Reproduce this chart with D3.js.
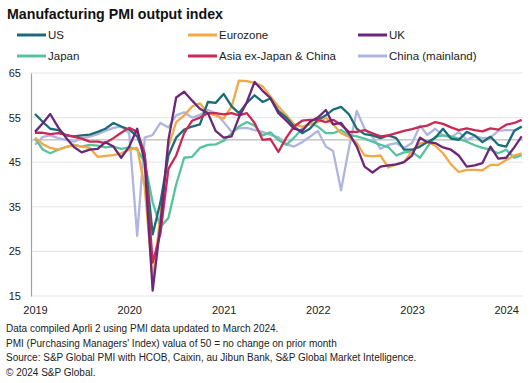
<!DOCTYPE html>
<html><head><meta charset="utf-8">
<script src="https://cdn.jsdelivr.net/npm/d3@7"></script>
<style>
html,body{margin:0;padding:0;background:#fff;}
svg{display:block;font-family:"Liberation Sans",Arial,sans-serif;}
</style></head>
<body>
<svg id="chart" width="532" height="383"></svg>
<script>
const startMonth = "2019-01";
const seriesNames = ["US","Eurozone","UK","Japan","Asia ex-Japan & China","China (mainland)"];
const seriesColors = ["#1b6c78","#f2a945","#6b2778","#56c39d","#c92a55","#b0b5e0"];
const yTicks = [15,25,35,45,55,65];
const xTickLabels = ["2019","2020","2021","2022","2023","2024"];
const footnotes = [
  "Data compiled Aprli 2 using PMI data updated to March 2024.",
  "PMI (Purchasing Managers' Index) valua of 50 = no change on prior month",
  "Source: S&P Global PMI with HCOB, Caixin, au Jibun Bank, S&P Global Market Intelligence.",
  "\u00a9 2024 S&P Global."
];

const us = [55.8,54.0,52.5,52.2,51.0,50.8,51.0,51.2,51.8,52.5,53.8,53.0,
  52.3,50.8,46.5,28.8,36.0,46.5,50.5,52.3,53.0,53.5,58.5,58.3,
  60.3,57.5,56.0,58.3,60.0,58.5,59.3,56.5,55.0,53.0,51.5,52.5,
  54.5,55.5,56.8,57.4,55.8,52.5,51.3,51.0,50.4,51.0,50.4,47.8,
  47.8,48.5,49.5,50.5,52.5,50.3,50.0,51.8,51.0,49.5,50.7,48.9,
  48.5,52.0,53.0];
const eurozone = [50.5,49.0,48.2,47.8,48.4,48.9,48.5,48.2,46.2,46.4,46.6,47.0,
  47.8,48.2,39.5,18.5,33.0,48.5,54.0,55.5,57.5,58.2,56.0,55.5,
  54.8,57.5,63.3,63.2,62.8,62.0,59.8,57.5,55.5,53.5,53.0,53.5,
  54.0,55.0,53.5,51.5,50.7,49.3,46.5,46.3,46.5,43.8,44.5,45.0,
  47.5,49.2,49.6,48.7,47.0,44.5,42.8,43.3,43.3,43.2,44.4,44.4,
  45.5,46.5,47.0];
const uk = [51.8,53.8,55.8,52.8,50.5,48.4,47.2,47.8,48.0,49.5,48.5,46.0,
  48.5,52.5,45.0,16.2,31.0,50.0,59.5,60.8,58.8,57.0,56.0,52.0,
  50.5,50.8,55.0,58.5,63.0,61.0,59.4,56.0,54.3,52.5,52.0,54.0,
  55.0,56.7,53.5,53.8,51.5,48.5,44.0,42.7,44.0,44.3,44.5,45.0,
  46.5,50.5,49.5,49.3,48.3,47.8,46.5,44.0,44.3,44.8,48.5,45.8,
  46.0,48.3,50.8];
const japan = [50.3,47.8,47.0,47.8,48.4,48.9,48.5,48.9,48.7,48.3,48.5,48.0,
  48.3,47.8,45.0,36.0,30.5,32.5,40.0,46.0,46.2,48.2,48.9,49.0,
  49.8,51.5,53.0,54.0,53.2,51.0,51.7,50.0,48.9,50.5,52.5,53.8,
  53.0,51.5,51.5,52.2,51.1,50.8,50.3,49.6,48.9,48.4,46.5,47.2,
  47.3,46.0,48.4,50.7,51.0,50.8,50.3,49.6,48.8,48.2,47.8,47.0,
  47.8,46.0,46.6];
const asia = [51.6,51.6,51.3,51.5,51.1,50.7,50.3,49.6,49.6,49.3,50.4,51.6,
  52.7,51.8,47.0,22.5,29.0,43.5,46.5,51.5,54.3,55.0,56.0,56.0,
  55.7,56.0,55.5,56.0,53.8,50.0,50.2,47.3,50.5,53.0,54.3,54.5,
  54.5,54.0,54.5,53.4,51.8,51.8,52.2,51.5,50.8,51.0,51.5,52.0,
  52.4,52.9,53.2,54.0,53.6,52.8,52.2,52.6,52.2,51.9,52.6,52.3,
  53.4,53.8,54.5];
const china = [48.9,50.7,51.0,50.4,50.0,49.6,50.4,50.7,51.3,52.0,52.7,53.0,
  51.5,28.5,50.5,51.1,53.8,52.8,55.5,56.2,55.0,55.6,56.7,56.0,
  54.0,51.8,52.6,52.7,52.2,51.8,51.1,50.6,49.0,48.5,49.5,50.7,
  52.0,48.5,47.5,38.7,48.0,56.5,52.5,50.7,48.0,48.9,49.3,48.2,
  49.3,53.2,51.1,52.5,51.0,50.5,51.8,50.0,50.8,50.4,50.5,52.0,
  52.2,52.2,52.9];
const seriesValues = [us, eurozone, uk, japan, asia, china];

const svg = d3.select("#chart");
const parse = d3.timeParse("%Y-%m");
const t0 = parse(startMonth);
const dates = us.map((_, i) => d3.timeMonth.offset(t0, i));

const x = d3.scaleTime().domain([dates[0], dates[dates.length - 1]]).range([35, 521.7]);
const y = d3.scaleLinear().domain([15, 65]).range([296, 73]);

// title
svg.append("text").attr("x", 7).attr("y", 19)
  .attr("font-size", 14.2).attr("font-weight", "bold").attr("fill", "#111")
  .text("Manufacturing PMI output index");

// legend
const legCols = [17, 188, 358];
const legRows = [35, 56];
seriesNames.forEach((n, i) => {
  const lx = legCols[i % 3], ly = legRows[Math.floor(i / 3)];
  svg.append("line").attr("x1", lx).attr("x2", lx + 29).attr("y1", ly).attr("y2", ly)
    .attr("stroke", seriesColors[i]).attr("stroke-width", 3);
  svg.append("text").attr("x", lx + 31).attr("y", ly + 4.2)
    .attr("font-size", 11.5).attr("fill", "#222").text(n);
});

// gridlines
svg.append("g").selectAll("line").data(yTicks.filter(v => v !== 15)).join("line")
  .attr("x1", 31).attr("x2", 523).attr("y1", d => y(d)).attr("y2", d => y(d))
  .attr("stroke", "#e4e4e4").attr("stroke-width", 1);
svg.append("line").attr("x1", 31).attr("x2", 523).attr("y1", y(15)).attr("y2", y(15))
  .attr("stroke", "#e4e4e4").attr("stroke-width", 1);
svg.append("line").attr("x1", 31).attr("x2", 523).attr("y1", y(50)).attr("y2", y(50))
  .attr("stroke", "#a8a8a8").attr("stroke-width", 1);

// y axis
const yAxis = svg.append("g").attr("transform", "translate(31,0)")
  .call(d3.axisLeft(y).tickValues(yTicks).tickSize(0).tickSizeOuter(0).tickPadding(10));
yAxis.select(".domain").attr("stroke", "#a0a0a0").attr("stroke-width", 1.2);
yAxis.selectAll("text").attr("font-size", 11).attr("fill", "#222")
  .attr("font-family", "Liberation Sans, Arial, sans-serif");

// x axis
const yearTicks = xTickLabels.map(s => d3.timeParse("%Y")(s));
const xAxis = svg.append("g").attr("transform", "translate(0,296)")
  .call(d3.axisBottom(x).tickValues(yearTicks).tickFormat(d3.timeFormat("%Y")).tickSize(0).tickPadding(10));
xAxis.select(".domain").remove();
xAxis.selectAll("text").attr("font-size", 11).attr("fill", "#222")
  .attr("font-family", "Liberation Sans, Arial, sans-serif");

// lines
const line = d3.line().x((d, i) => x(dates[i])).y(d => y(d));
const order = [5, 3, 1, 0, 4, 2];
order.forEach(k => {
  svg.append("path").datum(seriesValues[k])
    .attr("fill", "none").attr("stroke", seriesColors[k]).attr("stroke-width", 2.3)
    .attr("stroke-linejoin", "round").attr("d", line);
});

// footnotes
footnotes.forEach((t, i) => {
  svg.append("text").attr("x", 6).attr("y", 332 + i * 14.7)
    .attr("font-size", 10).attr("fill", "#222").text(t);
});
</script>
</body></html>
